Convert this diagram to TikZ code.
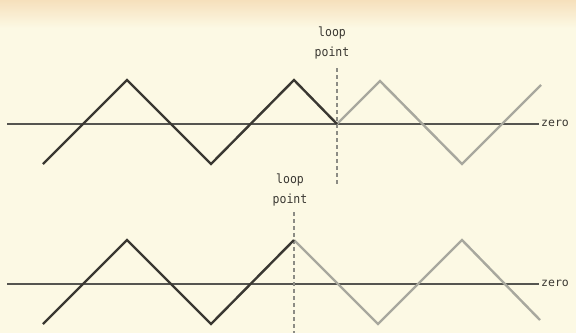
\documentclass[tikz,border=0pt]{standalone}
\usepackage{fontspec}
\newfontfamily\lblfont{DejaVu Sans Mono}
\definecolor{paper}{RGB}{252,249,228}
\definecolor{peach}{RGB}{246,224,188}
\definecolor{ink}{RGB}{58,56,50}
\definecolor{grayink}{RGB}{168,168,158}
\definecolor{axis}{RGB}{85,85,80}
\definecolor{dashcol}{RGB}{140,140,132}
\tikzset{
  blackwave/.style={draw=ink, line width=2.4pt, line join=miter},
  graywave/.style={draw=grayink, line width=2.4pt, line join=miter},
  zeroline/.style={draw=axis, line width=1.1pt},
  looplabel/.style={font=\lblfont\fontsize{11.5}{19}\selectfont, text=ink, align=center, inner sep=0pt, yscale=1.1},
  zerolabel/.style={font=\lblfont\fontsize{11.5}{12}\selectfont, text=ink, anchor=west, inner sep=0pt},
  loopdash/.style={draw=dashcol, line width=1.1pt, dash pattern=on 3.5pt off 3.5pt},
}
\begin{document}
\begin{tikzpicture}[x=1pt,y=-1pt]
\useasboundingbox (0,0) rectangle (576,333);
\fill[paper] (0,0) rectangle (576,333);
\shade[top color=peach, bottom color=paper] (0,0) rectangle (576,28);
% ---- top diagram ----
\coordinate (tz0) at (7,124);
\coordinate (tz1) at (539,124);
\node[zerolabel] (tzero) at (541,123) {zero};
\coordinate (ta) at (43,164);
\coordinate (tb) at (127,80);
\coordinate (tc) at (211,164);
\coordinate (td) at (294,80);
\coordinate (te) at (337,124);
\coordinate (tf) at (380,81);
\coordinate (tg) at (462,164);
\coordinate (th) at (541,85);
\coordinate (tdash0) at (337,68);
\coordinate (tdash1) at (337,184);
\node[looplabel] (tlbl) at (332,43) {loop\\point};
\draw[zeroline] (tz0) -- (tz1);
\draw[loopdash] (tdash0) -- (tdash1);
\draw[graywave] (te) -- (tf) -- (tg) -- (th);
\draw[blackwave] (ta) -- (tb) -- (tc) -- (td) -- (te);
% ---- bottom diagram ----
\coordinate (bz0) at (7,284);
\coordinate (bz1) at (539,284);
\node[zerolabel] (bzero) at (541,283) {zero};
\coordinate (ba) at (43,324);
\coordinate (bb) at (127,240);
\coordinate (bc) at (211,324);
\coordinate (bd) at (294,240);
\coordinate (be) at (378,324);
\coordinate (bf) at (462,240);
\coordinate (bg) at (540,320);
\coordinate (bdash0) at (294,212);
\coordinate (bdash1) at (294,333);
\node[looplabel] (blbl) at (290,190) {loop\\point};
\draw[zeroline] (bz0) -- (bz1);
\draw[loopdash] (bdash0) -- (bdash1);
\draw[graywave] (bd) -- (be) -- (bf) -- (bg);
\draw[blackwave] (ba) -- (bb) -- (bc) -- (bd);
\end{tikzpicture}
\end{document}
